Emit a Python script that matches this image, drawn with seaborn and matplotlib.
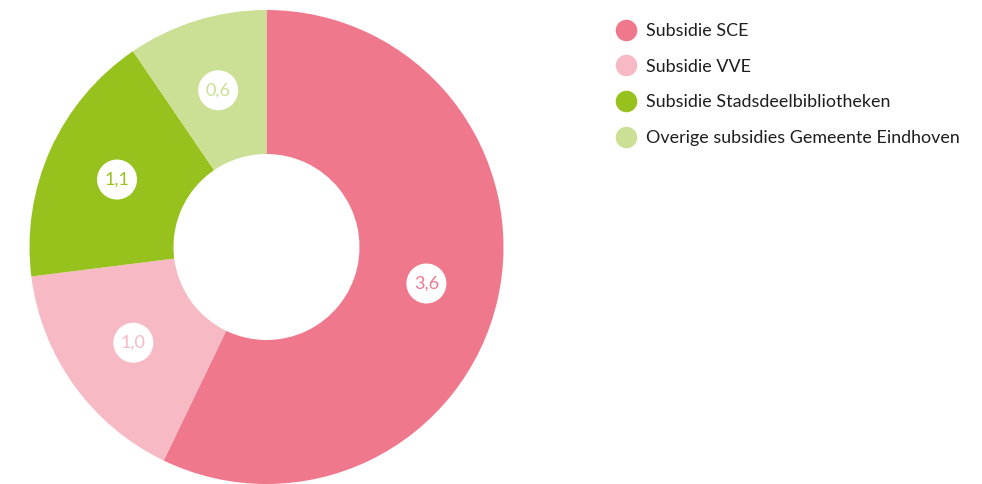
import matplotlib
matplotlib.use("Agg")
import matplotlib.pyplot as plt
from matplotlib.patches import Circle
from matplotlib.lines import Line2D
import numpy as np
import seaborn as sns

categories = ["Subsidie SCE", "Subsidie VVE", "Subsidie Stadsdeelbibliotheken",
              "Overige subsidies Gemeente Eindhoven"]
values = [3.6, 1.0, 1.1, 0.6]
labels = ["3,6", "1,0", "1,1", "0,6"]
colors = ["#F0788C", "#F7BAC4", "#97C21E", "#CBE094"]

sns.set_theme(style="white")
plt.rcParams['font.family'] = ['Lato', 'DejaVu Sans']

W, H = 982, 484
fig = plt.figure(figsize=(W / 100, H / 100), dpi=100)
cx, cy, R = 266.5, 247, 237
ax = fig.add_axes([(cx - R) / W, (H - cy - R) / H, 2 * R / W, 2 * R / H])
ax.set_aspect("equal")
ax.axis("off")

inner = 93 / R
wedges, _ = ax.pie(values, colors=colors, startangle=90, counterclock=False,
                   radius=1, wedgeprops=dict(width=1 - inner, linewidth=0),
                   normalize=True)
ax.set_xlim(-1, 1)
ax.set_ylim(-1, 1)

total = sum(values)
start = 90.0
rl = 164 / R
for v, lab, col in zip(values, labels, colors):
    ang = start - v / total * 360 / 2
    start -= v / total * 360
    x, y = rl * np.cos(np.radians(ang)), rl * np.sin(np.radians(ang))
    ax.add_patch(Circle((x, y), 20 / R, facecolor="white", edgecolor="none", zorder=3))
    ax.text(x, y, lab, ha="center", va="center", color=col, fontsize=13, zorder=4)

handles = [Line2D([0], [0], marker="o", linestyle="none", markersize=15.5,
                  markerfacecolor=c, markeredgecolor="none") for c in colors]
fig.legend(handles, categories, loc="upper left", bbox_to_anchor=(613.5 / W, 1 - 23 / H),
           frameon=False, fontsize=12.9, handletextpad=0.42, labelspacing=1.1,
           handlelength=1.4, borderaxespad=0, borderpad=0, labelcolor="#1e1e1e")

fig.savefig("out.png", dpi=100, facecolor="white")
